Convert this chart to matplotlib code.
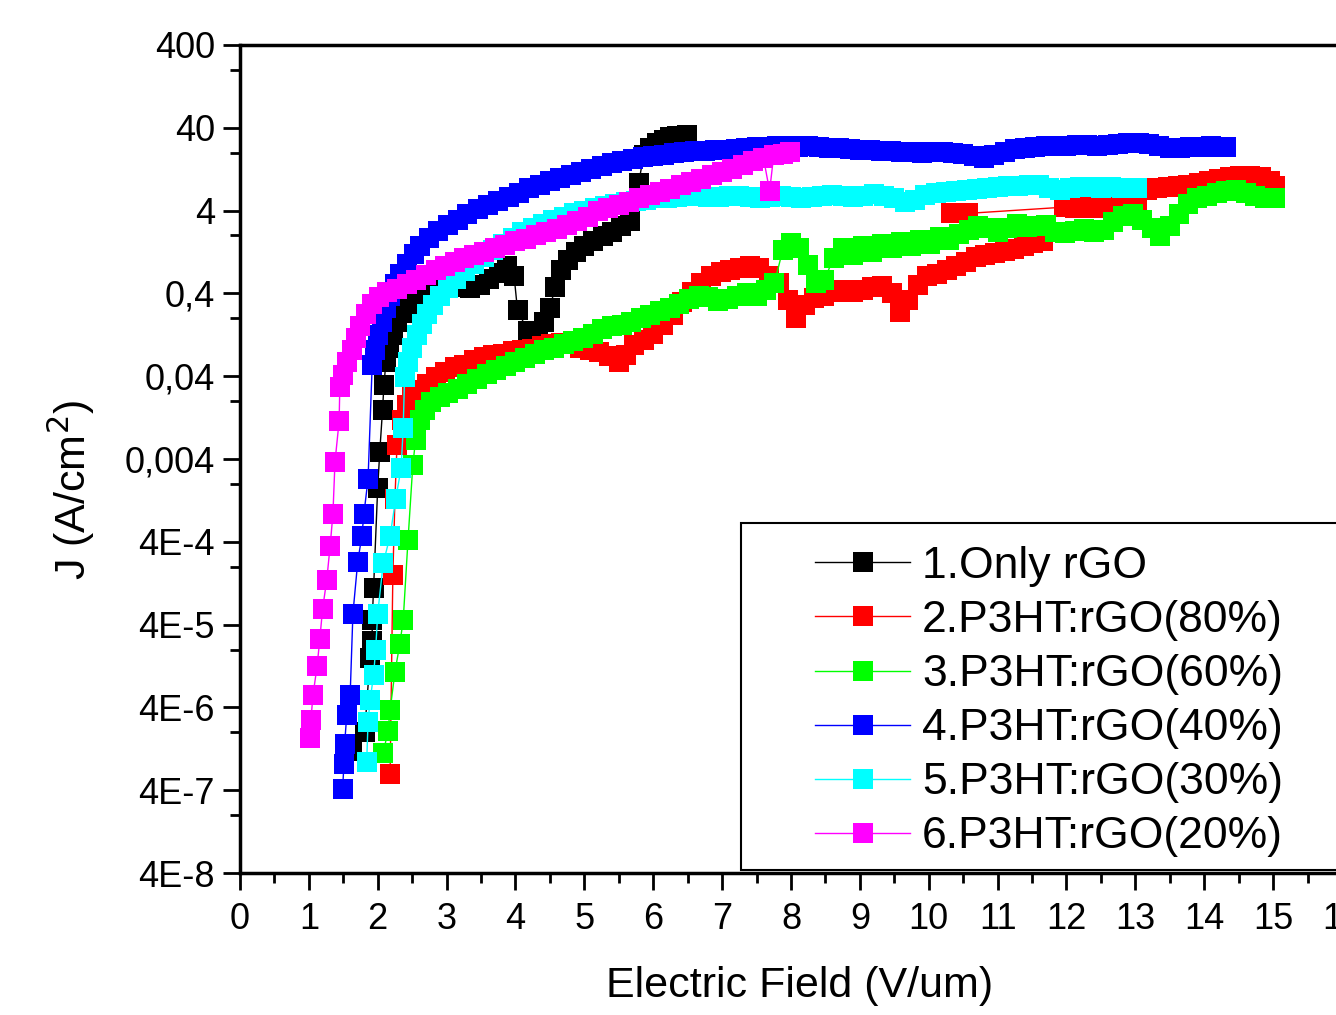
import matplotlib.pyplot as plt
from matplotlib.patches import Rectangle
from matplotlib.ticker import MultipleLocator, FixedLocator, NullFormatter

plt.rcParams['font.family'] = ['Liberation Sans', 'DejaVu Sans']

labels = ['1.Only rGO', '2.P3HT:rGO(80%)', '3.P3HT:rGO(60%)',
          '4.P3HT:rGO(40%)', '5.P3HT:rGO(30%)', '6.P3HT:rGO(20%)']
colors = ['#000000', '#ff0000', '#00ff00', '#0000ff', '#00ffff', '#ff00ff']

# 1. only rGO
x_rgo = [1.63, 1.81, 1.89, 1.92, 1.92, 1.94, 2.00, 2.03, 2.07, 2.09,
         2.12, 2.16, 2.22, 2.28, 2.36, 2.45, 2.55, 2.66, 2.78, 2.92,
         3.06, 3.20, 3.34, 3.48, 3.62, 3.76, 3.88, 3.98, 4.03, 4.18,
         4.32, 4.42, 4.50, 4.58, 4.66, 4.76, 4.88, 5.00, 5.13, 5.27,
         5.40, 5.53, 5.66, 5.79, 5.86, 5.95, 6.05, 6.15, 6.25, 6.35, 6.49]
j_rgo = [1.2e-6, 2.0e-6, 1.6e-5, 2.5e-5, 4.5e-5, 1.1e-4, 1.8e-3, 4.9e-3, 0.0156, 0.031,
         0.060, 0.087, 0.126, 0.18, 0.23, 0.29, 0.35, 0.40, 0.45, 0.49,
         0.50, 0.48, 0.47, 0.50, 0.60, 0.70, 0.86, 0.65, 0.25, 0.14,
         0.14, 0.18, 0.27, 0.48, 0.77, 1.01, 1.26, 1.49, 1.72, 1.97,
         2.2, 2.6, 3.0, 8.6, 18.8, 22.8, 26.2, 28.5, 31.0, 31.9, 32.7]

# 2. P3HT:rGO(80%) - two sweeps
x_80a = [2.18, 2.22, 2.25, 2.28, 2.35, 2.42, 2.50, 2.60, 2.72, 2.85, 2.98,
         3.12, 3.26, 3.40, 3.54, 3.68, 3.82, 3.96, 4.10, 4.24, 4.38, 4.52, 4.66, 4.80, 4.94,
         5.08, 5.22, 5.36, 5.50, 5.60, 5.72, 5.86, 6.00, 6.14, 6.28, 6.42, 6.56, 6.70, 6.84, 6.98,
         7.12, 7.26, 7.40, 7.54, 7.68, 7.82, 7.96, 8.08, 8.20, 8.34, 8.48, 8.62, 8.76, 8.90,
         9.04, 9.18, 9.32, 9.46, 9.58, 9.70, 9.84, 9.98, 10.12, 10.26, 10.40, 10.54, 10.68, 10.82, 10.96,
         11.10, 11.24, 11.38, 11.52, 11.66]
j_80a = [6.3e-7, 1.6e-4, 1.3e-3, 5.9e-3, 0.0118, 0.018, 0.023, 0.027, 0.032, 0.039, 0.045,
         0.051, 0.055, 0.063, 0.068, 0.072, 0.074, 0.080, 0.083, 0.085, 0.092, 0.097, 0.10, 0.097, 0.088,
         0.083, 0.078, 0.070, 0.060, 0.072, 0.095, 0.109, 0.13, 0.166, 0.22, 0.315, 0.42, 0.53, 0.65, 0.72,
         0.77, 0.80, 0.86, 0.80, 0.65, 0.53, 0.33, 0.20, 0.29, 0.35, 0.37, 0.42, 0.44, 0.42,
         0.44, 0.48, 0.49, 0.40, 0.24, 0.33, 0.505, 0.64, 0.69, 0.77, 0.86, 0.97, 1.09, 1.16, 1.22,
         1.30, 1.37, 1.49, 1.63, 1.72]
x_80b = [10.33, 10.57, 11.97, 12.12, 12.27, 12.42, 12.57, 12.72, 12.87, 13.02,
         13.17, 13.32, 13.47, 13.62, 13.77, 13.92, 14.07, 14.22, 14.37,
         14.52, 14.67, 14.82, 14.95, 15.02]
j_80b = [3.7, 3.7, 4.4, 4.3, 4.4, 4.3, 4.4, 4.3, 4.4, 4.6,
         7.1, 7.5, 7.7, 7.9, 8.15, 8.6, 9.1, 9.6, 10.2,
         10.5, 10.5, 10.2, 9.1, 7.9]

# 3. P3HT:rGO(60%)
x_60 = [2.08, 2.15, 2.18, 2.25, 2.32, 2.37, 2.44, 2.51, 2.55,
        2.61, 2.68, 2.78, 2.90, 3.02, 3.16, 3.30, 3.44, 3.58, 3.72, 3.86,
        4.00, 4.14, 4.28, 4.42, 4.56, 4.70, 4.84, 4.98, 5.12, 5.26, 5.40, 5.54, 5.68, 5.82, 5.96,
        6.10, 6.24, 6.38, 6.52, 6.66, 6.80, 6.94, 7.08, 7.22, 7.36, 7.50, 7.64, 7.76, 7.88,
        8.00, 8.12, 8.24, 8.36, 8.48, 8.62, 8.76, 8.90, 9.04, 9.18, 9.32, 9.46, 9.60, 9.74, 9.88,
        10.02, 10.16, 10.30, 10.44, 10.58, 10.72, 10.86, 11.00, 11.14, 11.28, 11.42, 11.56, 11.70,
        11.84, 11.98, 12.12, 12.26, 12.40, 12.54, 12.68, 12.82, 12.96, 13.10, 13.24, 13.36, 13.50,
        13.64, 13.76, 13.90, 14.04, 14.18, 14.32, 14.46, 14.60, 14.74, 14.88, 15.02]
j_60 = [1.12e-6, 2.1e-6, 3.7e-6, 1.07e-5, 2.3e-5, 4.5e-5, 4.2e-4, 3.4e-3, 6.8e-3,
        0.0118, 0.0156, 0.0195, 0.0226, 0.025, 0.028, 0.032, 0.037, 0.042, 0.048, 0.053,
        0.060, 0.066, 0.074, 0.083, 0.088, 0.097, 0.106, 0.115, 0.13, 0.147, 0.16, 0.166, 0.18, 0.20, 0.22,
        0.245, 0.27, 0.30, 0.34, 0.37, 0.36, 0.32, 0.34, 0.37, 0.40, 0.37, 0.44, 0.53, 1.34,
        1.63, 1.41, 0.88, 0.53, 0.58, 1.06, 1.41, 1.16, 1.49, 1.26, 1.6, 1.41, 1.67, 1.49, 1.77,
        1.6, 1.92, 1.77, 2.1, 2.33, 2.62, 2.47, 2.2, 2.47, 2.75, 2.54, 2.62, 2.68,
        2.2, 2.15, 2.27, 2.4, 2.2, 2.33, 2.91, 3.44, 3.63, 3.08, 2.47, 1.97, 2.62,
        3.63, 4.8, 5.7, 6.0, 6.5, 6.9, 7.1, 6.5, 6.0, 5.6, 5.6]

# 4. P3HT:rGO(40%)
x_40 = [1.49, 1.51, 1.52, 1.55, 1.60, 1.64, 1.71, 1.77, 1.80, 1.86,
        1.92, 1.96, 2.00, 2.06, 2.12, 2.18, 2.25, 2.33, 2.42, 2.52,
        2.62, 2.74, 2.88, 3.02, 3.16, 3.30, 3.45, 3.60, 3.75, 3.90,
        4.05, 4.20, 4.35, 4.50, 4.65, 4.80, 4.95, 5.10, 5.25, 5.40,
        5.55, 5.70, 5.85, 6.00, 6.15, 6.30, 6.45, 6.60, 6.75, 6.90,
        7.05, 7.20, 7.35, 7.50, 7.65, 7.80, 7.95, 8.10, 8.25, 8.40,
        8.55, 8.70, 8.85, 9.00, 9.15, 9.30, 9.45, 9.60, 9.75, 9.90,
        10.05, 10.20, 10.35, 10.50, 10.65, 10.80, 10.95, 11.10, 11.25, 11.40,
        11.55, 11.70, 11.85, 12.00, 12.15, 12.30, 12.45, 12.60, 12.75, 12.90,
        13.05, 13.20, 13.35, 13.50, 13.65, 13.80, 13.95, 14.10, 14.25, 14.32]
j_40 = [4.1e-7, 8.3e-7, 1.45e-6, 3.2e-6, 5.6e-6, 5.4e-5, 2.3e-4, 4.7e-4, 8.7e-4, 2.3e-3,
        0.055, 0.083, 0.126, 0.18, 0.27, 0.37, 0.52, 0.69, 0.90, 1.20,
        1.49, 1.87, 2.27, 2.68, 3.08, 3.63, 4.2, 4.7, 5.2, 5.8,
        6.5, 7.5, 8.15, 9.1, 9.9, 10.8, 11.7, 12.8, 13.8, 15.0,
        15.9, 16.9, 17.7, 18.2, 18.8, 19.9, 20.4, 21.0, 21.0, 21.6,
        21.6, 22.2, 22.8, 23.4, 23.4, 24.1, 24.1, 23.4, 24.1, 23.4,
        22.8, 22.8, 22.2, 21.6, 21.6, 21.0, 21.0, 20.4, 20.4, 19.9,
        20.4, 20.4, 19.9, 19.3, 18.2, 17.3, 18.8, 20.4, 22.2, 22.8,
        23.4, 24.1, 24.1, 24.1, 24.8, 24.8, 24.1, 24.8, 25.5, 26.2,
        26.2, 25.5, 24.1, 22.8, 22.8, 23.4, 23.4, 24.1, 23.4, 23.4]

# 5. P3HT:rGO(30%)
x_30 = [1.84, 1.86, 1.89, 1.94, 1.97, 2.00, 2.08, 2.18, 2.26, 2.34, 2.37,
        2.39, 2.44, 2.50, 2.57, 2.64, 2.72, 2.81, 2.91, 3.02, 3.14,
        3.27, 3.40, 3.54, 3.68, 3.82, 3.96, 4.10, 4.25, 4.40, 4.55,
        4.70, 4.85, 5.00, 5.15, 5.30, 5.45, 5.60, 5.75, 5.90, 6.05,
        6.20, 6.35, 6.50, 6.65, 6.80, 6.95, 7.10, 7.25, 7.40, 7.55,
        7.70, 7.85, 8.00, 8.15, 8.30, 8.45, 8.60, 8.75, 8.90, 9.05,
        9.20, 9.35, 9.50, 9.65, 9.80, 9.95, 10.10, 10.25, 10.40, 10.55,
        10.70, 10.85, 11.00, 11.15, 11.30, 11.45, 11.60, 11.75, 11.90, 12.05,
        12.20, 12.35, 12.50, 12.65, 12.80, 12.95, 13.02]
j_30 = [8.8e-7, 2.7e-6, 4.9e-6, 9.8e-6, 2.0e-5, 5.4e-5, 2.2e-4, 4.7e-4, 1.3e-3, 3.1e-3, 9.5e-3,
        0.039, 0.060, 0.087, 0.126, 0.17, 0.225, 0.29, 0.37, 0.47, 0.60,
        0.75, 0.90, 1.09, 1.34, 1.6, 1.87, 2.2, 2.47, 2.75, 3.08,
        3.35, 3.7, 3.96, 4.3, 4.6, 4.8, 5.1, 5.2, 5.4, 5.6,
        5.7, 5.8, 6.0, 6.0, 5.8, 5.8, 6.0, 6.0, 5.8, 5.7,
        5.8, 6.0, 5.8, 5.7, 5.8, 6.0, 6.2, 6.0, 5.8, 6.0,
        6.3, 6.0, 5.6, 5.1, 5.4, 6.2, 6.5, 6.7, 6.9, 7.1,
        7.3, 7.5, 7.7, 7.9, 7.9, 8.15, 8.15, 7.5, 7.1, 7.5,
        7.7, 7.7, 7.5, 7.7, 7.5, 7.5, 7.5]

# 6. P3HT:rGO(20%)
x_20 = [1.02, 1.03, 1.06, 1.12, 1.16, 1.20, 1.26, 1.31, 1.35, 1.38, 1.44,
        1.45, 1.50, 1.56, 1.62, 1.68, 1.75, 1.83, 1.92, 2.02, 2.14,
        2.28, 2.42, 2.56, 2.70, 2.84, 2.98, 3.12, 3.26, 3.40, 3.55,
        3.70, 3.85, 4.00, 4.15, 4.30, 4.45, 4.60, 4.75, 4.90, 5.05,
        5.20, 5.35, 5.50, 5.65, 5.80, 5.95, 6.10, 6.25, 6.40, 6.55,
        6.70, 6.85, 7.00, 7.15, 7.30, 7.45, 7.60, 7.69, 7.75, 7.88, 7.98]
j_20 = [1.7e-6, 2.8e-6, 5.6e-6, 1.26e-5, 2.7e-5, 6.2e-5, 1.38e-4, 3.6e-4, 8.7e-4, 3.7e-3, 0.0115,
        0.030, 0.041, 0.060, 0.083, 0.115, 0.16, 0.225, 0.30, 0.36, 0.41,
        0.45, 0.52, 0.58, 0.67, 0.77, 0.86, 0.97, 1.06, 1.16, 1.26,
        1.41, 1.54, 1.74, 1.82, 2.03, 2.2, 2.4, 2.68, 3.0, 3.35,
        3.9, 4.3, 4.7, 5.1, 5.6, 6.2, 6.7, 7.3, 8.15, 8.9,
        9.6, 10.8, 11.7, 12.8, 14.2, 15.9, 17.3, 6.9, 18.8, 19.4, 20.4]

y_ticks = [4e-8, 4e-7, 4e-6, 4e-5, 4e-4, 4e-3, 4e-2, 4e-1, 4, 40, 400]
y_ticklabels = ['4E-8', '4E-7', '4E-6', '4E-5', '4E-4', '0,004', '0,04', '0,4', '4', '40', '400']
y_minor = [2e-7, 2e-6, 2e-5, 2e-4, 2e-3, 2e-2, 2e-1, 2, 20, 200]

fig = plt.figure(figsize=(13.36, 10.15), dpi=100)
ax = fig.add_axes([0.1796, 0.1399, 0.8249, 0.8158])

series = [(x_rgo, j_rgo), (x_80a, j_80a), (x_60, j_60), (x_40, j_40), (x_30, j_30), (x_20, j_20)]
for (xs, js), c, lab in zip(series, colors, labels):
    ax.plot(xs, js, color=c, lw=1, marker='s', ms=14, mew=0, label=lab)
    if lab.startswith('2.'):
        ax.plot(x_80b, j_80b, color=c, lw=1, marker='s', ms=14, mew=0)

ax.set_yscale('log')
ax.set_ylim(4e-8, 400)
ax.set_xlim(0, 16)
ax.set_yticks(y_ticks)
ax.set_yticklabels(y_ticklabels)
ax.yaxis.set_minor_locator(FixedLocator(y_minor))
ax.yaxis.set_minor_formatter(NullFormatter())
ax.xaxis.set_major_locator(MultipleLocator(1))
ax.xaxis.set_minor_locator(MultipleLocator(0.5))

ax.tick_params(which='major', direction='out', length=12, width=2, pad=6)
ax.tick_params(which='minor', direction='out', length=7, width=2)
ax.tick_params(axis='y', labelsize=26)
ax.tick_params(axis='x', labelsize=26, pad=9)
for s in ax.spines.values():
    s.set_linewidth(2.5)

ax.set_xlabel('Electric Field (V/um)', fontsize=31)
ax.xaxis.set_label_coords(0.508, -0.112)
ax.set_ylabel('J (A/cm$^2$)', fontsize=31)
ax.yaxis.set_label_coords(-0.13, 0.463)

box = Rectangle((0.4546, 0.004), 0.56, 0.419, transform=ax.transAxes,
                facecolor='white', edgecolor='black', lw=1.5, zorder=4, clip_on=False)
ax.add_patch(box)
leg = ax.legend(loc='upper left', bbox_to_anchor=(0.522, 0.395), frameon=False,
                fontsize=32, handlelength=2.13, handletextpad=0.27,
                labelspacing=0.295, borderpad=0, borderaxespad=0)
leg.set_zorder(5)

fig.savefig('out.png', dpi=100)
